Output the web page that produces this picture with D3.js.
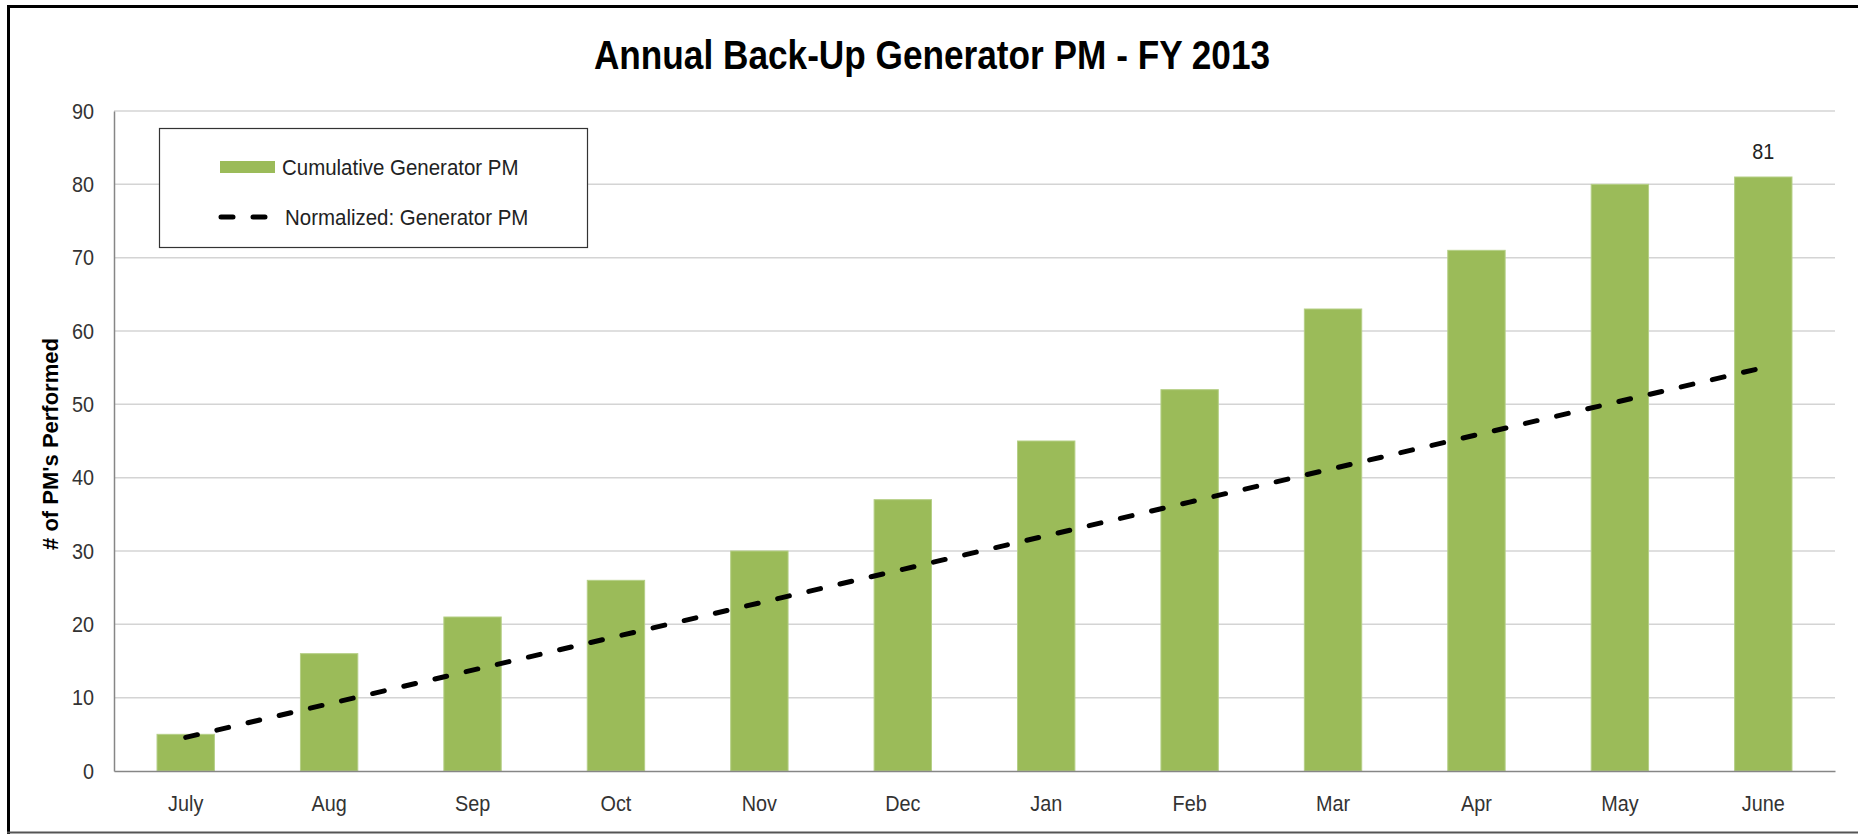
<!DOCTYPE html>
<html>
<head>
<meta charset="utf-8">
<script src="https://cdn.jsdelivr.net/npm/d3@7"></script>
<style>
  body { margin: 0; background: #fff; }
  svg text { font-family: "Liberation Sans", Arial, sans-serif; fill: #222; }
</style>
</head>
<body>
<div id="chart"></div>
<script>
  // chart data
  let months = ['July', 'Aug', 'Sep', 'Oct', 'Nov', 'Dec', 'Jan', 'Feb', 'Mar', 'Apr', 'May', 'June']
  let cumulativePM = [5, 16, 21, 26, 30, 37, 45, 52, 63, 71, 80, 81]
  let normalizedPM = [4.58, 9.17, 13.75, 18.33, 22.92, 27.5, 32.08, 36.67, 41.25, 45.83, 50.42, 55]
  let yTicks = [0, 10, 20, 30, 40, 50, 60, 70, 80, 90]

  let width = 1858, height = 834
  let margin = { top: 111, right: 23, bottom: 63, left: 114 }

  // squeezes Arial-like text so it reads closer to a narrow Calibri face
  condense = (sel, f) => {
    sel.each(function() {
      let w = this.getComputedTextLength()
      d3.select(this).attr('textLength', w * f).attr('lengthAdjust', 'spacingAndGlyphs')
    })
  }

  let svg = d3.select('#chart').append('svg')
    .attr('width', width)
    .attr('height', height)

  // outer frame
  svg.append('line').attr('x1', 7).attr('y1', 6.5).attr('x2', width).attr('y2', 6.5)
    .style('stroke', '#000').style('stroke-width', 3)
  svg.append('line').attr('x1', 8.5).attr('y1', 5).attr('x2', 8.5).attr('y2', height)
    .style('stroke', '#000').style('stroke-width', 3)
  svg.append('line').attr('x1', 7).attr('y1', 832.5).attr('x2', width).attr('y2', 832.5)
    .style('stroke', '#555').style('stroke-width', 2)

  // title
  svg.append('text')
    .attr('x', 932)
    .attr('y', 69)
    .attr('text-anchor', 'middle')
    .style('font-size', '40px')
    .style('font-weight', 'bold')
    .style('fill', '#000')
    .text('Annual Back-Up Generator PM - FY 2013')
    .call(condense, 0.88)

  let x = d3.scaleBand()
    .domain(months)
    .range([margin.left, width - margin.right])
    .paddingInner(0.6)
    .paddingOuter(0.3)

  let y = d3.scaleLinear()
    .domain([0, 90])
    .range([height - margin.bottom, margin.top])

  // gridlines
  svg.append('g')
    .selectAll('line')
    .data(yTicks.filter(d => d > 0))
    .join('line')
    .attr('x1', margin.left)
    .attr('x2', width - margin.right)
    .attr('y1', d => y(d))
    .attr('y2', d => y(d))
    .style('stroke', '#d4d4d4')
    .style('stroke-width', 1.5)

  // y axis
  let yAxis = svg.append('g')
    .attr('transform', `translate(${margin.left},0)`)
    .call(d3.axisLeft(y).tickValues(yTicks).tickSize(0).tickPadding(20))
  yAxis.select('.domain').style('stroke', '#868686').style('stroke-width', 1.5)
  yAxis.selectAll('text').style('font-size', '22px').style('fill', '#333')
    .style('font-family', '"Liberation Sans", Arial, sans-serif')
    .call(condense, 0.9)

  // bars
  svg.append('g')
    .selectAll('rect')
    .data(cumulativePM)
    .join('rect')
    .attr('x', (d, i) => x(months[i]))
    .attr('y', d => y(d))
    .attr('width', x.bandwidth())
    .attr('height', d => y(0) - y(d))
    .style('fill', '#9BBB59')
    .style('stroke', '#b5cf86')
    .style('stroke-width', 1)

  // x axis
  let xAxis = svg.append('g')
    .attr('transform', `translate(0,${y(0)})`)
    .call(d3.axisBottom(x).tickSize(0).tickPadding(24))
  xAxis.select('.domain').style('stroke', '#868686').style('stroke-width', 1.5)
  xAxis.selectAll('text').style('font-size', '22px').style('fill', '#333')
    .style('font-family', '"Liberation Sans", Arial, sans-serif')
    .call(condense, 0.9)

  // label on last bar
  let last = cumulativePM.length - 1
  svg.append('text')
    .attr('x', x(months[last]) + x.bandwidth() / 2)
    .attr('y', y(cumulativePM[last]) - 18)
    .attr('text-anchor', 'middle')
    .style('font-size', '22px')
    .text(cumulativePM[last])
    .call(condense, 0.9)

  // normalized dashed line
  let line = d3.line()
    .x((d, i) => x(months[i]) + x.bandwidth() / 2)
    .y(d => y(d))
  svg.append('path')
    .datum(normalizedPM)
    .attr('d', line)
    .style('fill', 'none')
    .style('stroke', '#000')
    .style('stroke-width', 5)
    .style('stroke-linecap', 'round')
    .style('stroke-dasharray', '12,20')

  // y axis title
  svg.append('text')
    .attr('transform', 'translate(58,444) rotate(-90)')
    .attr('text-anchor', 'middle')
    .style('font-size', '22px')
    .style('font-weight', 'bold')
    .style('fill', '#000')
    .text("# of PM's Performed")

  // legend
  let legend = svg.append('g')
  legend.append('rect')
    .attr('x', 159.5).attr('y', 128.5)
    .attr('width', 428).attr('height', 119)
    .style('fill', '#fff')
    .style('stroke', '#333')
    .style('stroke-width', 1.2)
  legend.append('rect')
    .attr('x', 220).attr('y', 161)
    .attr('width', 55).attr('height', 12)
    .style('fill', '#9BBB59')
  legend.append('text')
    .attr('x', 282).attr('y', 175)
    .style('font-size', '22px')
    .text('Cumulative Generator PM')
    .call(condense, 0.93)
  legend.append('line')
    .attr('x1', 221).attr('x2', 267)
    .attr('y1', 217).attr('y2', 217)
    .style('stroke', '#000')
    .style('stroke-width', 5)
    .style('stroke-linecap', 'round')
    .style('stroke-dasharray', '12,20')
  legend.append('text')
    .attr('x', 285).attr('y', 225)
    .style('font-size', '22px')
    .text('Normalized: Generator PM')
    .call(condense, 0.93)
</script>
</body>
</html>
